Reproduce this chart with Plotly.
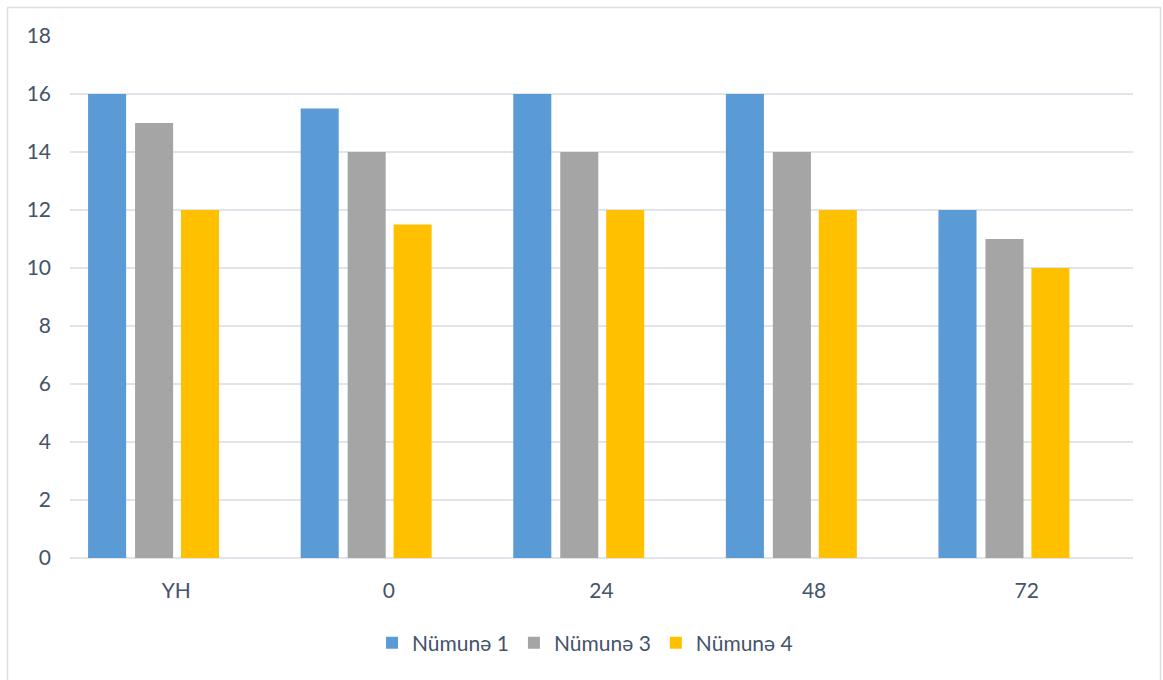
import plotly.graph_objects as go

# Time points (hours) and measured values per sample
categories = ["YH", "0", "24", "48", "72"]
series_names = ["Nümunə 1", "Nümunə 3", "Nümunə 4"]
numune_1 = [16, 15.5, 16, 16, 12]
numune_3 = [15, 14, 14, 14, 11]
numune_4 = [12, 11.5, 12, 12, 10]
y_ticks = [0, 2, 4, 6, 8, 10, 12, 14, 16, 18]

colors = ["#5B9BD5", "#A5A5A5", "#FFC000"]
bar_width = 0.179
offsets = [-0.415, -0.194, 0.022]

fig = go.Figure()
for name, vals, col, off in zip(series_names, [numune_1, numune_3, numune_4], colors, offsets):
    fig.add_trace(go.Bar(
        x=categories, y=vals, name=name,
        marker=dict(color=col, line=dict(width=0)),
        width=bar_width, offset=off,
    ))

text_color = "#44546A"
grid_color = "#E1E5EB"
font_family = "Lato, 'Open Sans', sans-serif"

fig.update_layout(
    width=1163, height=680,
    margin=dict(l=70, r=30, t=36, b=122),
    paper_bgcolor="white", plot_bgcolor="white",
    barmode="overlay",
    font=dict(family=font_family, size=21, color=text_color),
    showlegend=True,
    legend=dict(
        orientation="h", x=0.4845, xanchor="center", y=-0.163, yanchor="middle",
        font=dict(size=21, color=text_color), itemwidth=30,
        traceorder="normal",
    ),
    xaxis=dict(
        type="category", showgrid=False, showline=False, zeroline=False,
        ticks="", ticklabelstandoff=18, tickfont=dict(size=21, color=text_color),
    ),
    yaxis=dict(
        range=[0, 18], tickvals=y_ticks, showgrid=True, gridcolor=grid_color, gridwidth=1.5,
        zeroline=True, zerolinecolor=grid_color, zerolinewidth=1.5,
        showline=False, ticks="", ticklabelstandoff=18,
        tickfont=dict(size=21, color=text_color),
    ),
    shapes=[dict(
        type="rect", xref="paper", yref="paper",
        x0=-0.0588, x1=1.0259, y0=-0.2375, y1=1.0546,
        line=dict(color="#D9DEE5", width=1.5), fillcolor="rgba(0,0,0,0)", layer="below",
    )],
)

fig.write_html("out.html")
